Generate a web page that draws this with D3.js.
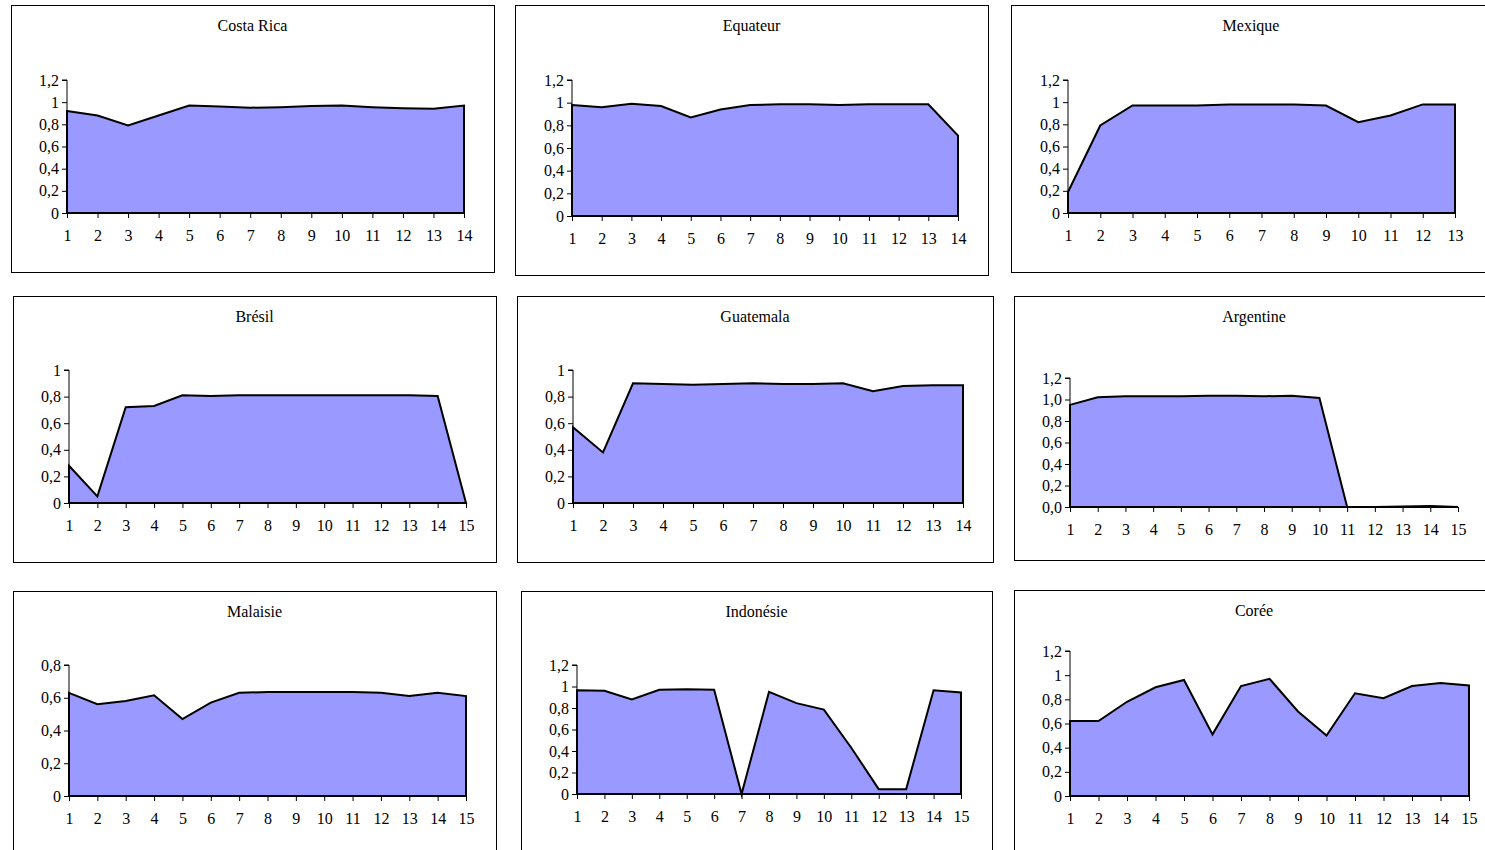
<!DOCTYPE html>
<html lang="en">
<head>
<meta charset="UTF-8">
<title>Panels</title>
<script src="https://cdnjs.cloudflare.com/ajax/libs/d3/7.8.5/d3.min.js"></script>
<style>
  body { margin: 0; background: #fff; }
  svg, svg text { font-family: "Liberation Serif", "DejaVu Serif", serif !important; font-size: 16px; fill: #000; }
</style>
</head>
<body>
<svg id="chart" width="1485" height="850"></svg>
<script>
const costaRica = [0.92, 0.88, 0.79, 0.88, 0.97, 0.96, 0.95, 0.955, 0.965, 0.97, 0.955, 0.945, 0.94, 0.97];
const equateur  = [0.98, 0.96, 0.99, 0.97, 0.87, 0.94, 0.98, 0.985, 0.985, 0.98, 0.985, 0.985, 0.985, 0.71];
const mexique   = [0.19, 0.79, 0.97, 0.97, 0.97, 0.98, 0.98, 0.98, 0.97, 0.82, 0.88, 0.98, 0.98];
const bresil    = [0.28, 0.05, 0.72, 0.73, 0.81, 0.805, 0.81, 0.81, 0.81, 0.81, 0.81, 0.81, 0.81, 0.805, 0];
const guatemala = [0.57, 0.38, 0.90, 0.895, 0.89, 0.895, 0.90, 0.895, 0.895, 0.90, 0.84, 0.88, 0.885, 0.885];
const argentine = [0.95, 1.02, 1.03, 1.03, 1.03, 1.035, 1.035, 1.03, 1.035, 1.015, 0, 0, 0.005, 0.01, 0];
const malaisie  = [0.63, 0.56, 0.58, 0.615, 0.47, 0.57, 0.63, 0.635, 0.635, 0.635, 0.635, 0.63, 0.61, 0.63, 0.61];
const indonesie = [0.965, 0.96, 0.88, 0.97, 0.975, 0.97, 0, 0.95, 0.845, 0.785, 0.43, 0.045, 0.045, 0.965, 0.945];
const coree     = [0.62, 0.62, 0.78, 0.90, 0.96, 0.51, 0.91, 0.97, 0.70, 0.50, 0.85, 0.81, 0.91, 0.935, 0.915];

// box: frame, plot: [x0, x1, yTop, yBottom]
const panels = [
  { title: "Costa Rica", data: costaRica, yMax: 1.2, fmt: "short", box: [11, 5, 483, 267], plot: [67, 464, 80, 213] },
  { title: "Equateur",   data: equateur,  yMax: 1.2, fmt: "short", box: [515, 5, 473, 270], plot: [572, 958, 80, 216] },
  { title: "Mexique",    data: mexique,   yMax: 1.2, fmt: "short", box: [1011, 5, 480, 267], plot: [1068, 1455, 80, 213] },
  { title: "Brésil",     data: bresil,    yMax: 1.0, fmt: "short", box: [13, 296, 483, 266], plot: [69, 466, 370, 503] },
  { title: "Guatemala",  data: guatemala, yMax: 1.0, fmt: "short", box: [517, 296, 476, 266], plot: [573, 963, 370, 503] },
  { title: "Argentine",  data: argentine, yMax: 1.2, fmt: "fixed", box: [1014, 296, 480, 264], plot: [1070, 1458, 378, 507] },
  { title: "Malaisie",   data: malaisie,  yMax: 0.8, fmt: "short", box: [13, 591, 483, 270], plot: [69, 466, 665, 796] },
  { title: "Indonésie",  data: indonesie, yMax: 1.2, fmt: "short", box: [521, 591, 471, 270], plot: [577, 961, 665, 794] },
  { title: "Corée",      data: coree,     yMax: 1.2, fmt: "short", box: [1014, 590, 480, 270], plot: [1070, 1469, 651, 796] }
];

const svg = d3.select("#chart");

const fmtShort = v => {
  const r = Math.round(v * 10) / 10;
  return (Number.isInteger(r) ? String(r) : r.toFixed(1)).replace(".", ",");
};
const fmtFixed = v => v.toFixed(1).replace(".", ",");

panels.forEach(p => {
  const g = svg.append("g");
  const [bx, by, bw, bh] = p.box;
  const [x0, x1, yT, yB] = p.plot;

  g.append("rect").attr("x", bx + 0.5).attr("y", by + 0.5).attr("width", bw).attr("height", bh)
    .attr("fill", "none").attr("stroke", "#000").attr("stroke-width", 1);

  g.append("text").attr("x", bx + bw / 2).attr("y", by + 26).attr("text-anchor", "middle").text(p.title);

  const idx = d3.range(1, p.data.length + 1);
  const x = d3.scaleLinear().domain([1, p.data.length]).range([x0, x1]);
  const y = d3.scaleLinear().domain([0, p.yMax]).range([yB, yT]);

  const area = d3.area().x((d, i) => x(i + 1)).y0(y(0)).y1(d => y(d));
  g.append("path").datum(p.data).attr("d", area)
    .attr("fill", "#9999ff").attr("stroke", "#000").attr("stroke-width", 2).attr("stroke-linejoin", "miter");

  const yTicks = d3.range(0, p.yMax + 0.001, 0.2);
  const yAxis = d3.axisLeft(y).tickValues(yTicks).tickSize(5).tickPadding(3)
    .tickFormat(p.fmt === "fixed" ? fmtFixed : fmtShort);
  g.append("g").attr("transform", `translate(${x0},0)`).call(yAxis)
    .call(s => s.select(".domain").attr("d", `M-5,${yT}H0V${yB}`));

  const xAxis = d3.axisBottom(x).tickValues(idx).tickFormat(d3.format("d")).tickSize(5).tickPadding(12);
  g.append("g").attr("transform", `translate(0,${yB})`).call(xAxis)
    .call(s => s.select(".domain").attr("d", `M${x0},0H${x1}`));

  g.selectAll("g").attr("font-family", null).attr("font-size", null);
  g.selectAll(".tick line, .domain").attr("stroke", "#000");
});
</script>
</body>
</html>
